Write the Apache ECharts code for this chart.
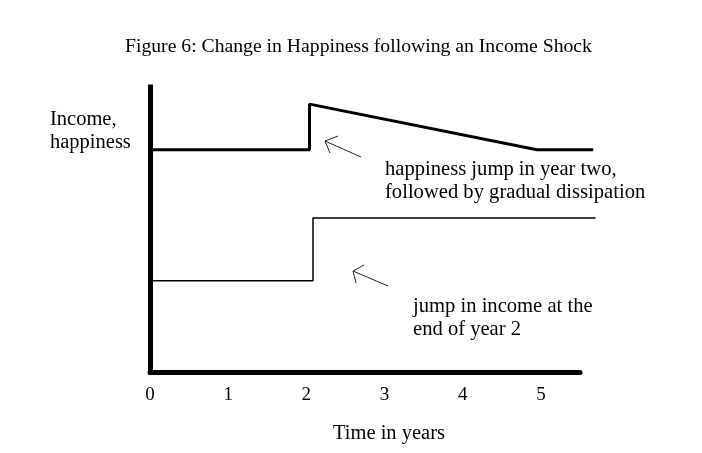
<!DOCTYPE html>
<html>
<head>
<meta charset="utf-8">
<script src="https://cdn.jsdelivr.net/npm/echarts@6/dist/echarts.min.js"></script>
<style>
  html, body { margin: 0; padding: 0; background: #fff; }
  #chart { width: 702px; height: 453px; }
</style>
</head>
<body>
<div id="chart"></div>
<script>
// ---- data (years on x, arbitrary level on y) ----
const tickLabels = ['0', '1', '2', '3', '4', '5'];
const happinessYears = [0, 2.04, 2.04, 4.95, 5.67];
const happinessLevel = [78, 78, 94, 78, 78];
const incomeYears = [0, 2.085, 2.085, 5.70];
const incomeLevel = [32, 32, 54, 54];

const titleText = 'Figure 6: Change in Happiness following an Income Shock';
const yLabel = 'Income,\nhappiness';
const xLabel = 'Time in years';
const noteHappiness = 'happiness jump in year two,\nfollowed by gradual dissipation';
const noteIncome = 'jump in income at the\nend of year 2';

const serif = '"Liberation Serif", "Times New Roman", serif';
const pair = (xs, ys) => xs.map((x, i) => [x, ys[i]]);

// scale: 430 px for 5.5 years
const pxPerYear = 430 / 5.5;
const dataMaxYear = 5.75;

const chart = echarts.init(document.getElementById('chart'), null, { renderer: 'canvas' });
chart.setOption({
  animation: false,
  backgroundColor: '#ffffff',
  title: {
    text: titleText,
    left: 125, top: 37, padding: 0,
    textStyle: { fontFamily: serif, fontSize: 19.7, fontWeight: 'normal', color: '#000' }
  },
  grid: [
    { left: 150, top: 87, width: 430, height: 285 },
    { left: 150, top: 87, width: pxPerYear * dataMaxYear, height: 285 }
  ],
  xAxis: [
    {
      gridIndex: 0, type: 'value', min: 0, max: 5.5, interval: 1,
      axisLine: { show: true, onZero: false, lineStyle: { color: '#000', width: 5 } },
      axisTick: { show: false },
      splitLine: { show: false },
      axisLabel: {
        showMaxLabel: false,
        margin: 14,
        fontFamily: serif, fontSize: 19, color: '#000',
        formatter: (v) => tickLabels[Math.round(v)] ?? ''
      }
    },
    {
      gridIndex: 1, type: 'value', min: 0, max: dataMaxYear, show: false
    }
  ],
  yAxis: [
    {
      gridIndex: 0, type: 'value', min: 0, max: 100,
      axisLine: { show: true, onZero: false, lineStyle: { color: '#000', width: 5, cap: 'square' } },
      axisTick: { show: false },
      splitLine: { show: false },
      axisLabel: { show: false }
    },
    {
      gridIndex: 1, type: 'value', min: 0, max: 100, show: false
    }
  ],
  series: [
    {
      name: 'Happiness', type: 'line', xAxisIndex: 1, yAxisIndex: 1, symbol: 'none',
      data: pair(happinessYears, happinessLevel),
      lineStyle: { color: '#000', width: 3 }
    },
    {
      name: 'Income', type: 'line', xAxisIndex: 1, yAxisIndex: 1, symbol: 'none',
      data: pair(incomeYears, incomeLevel),
      lineStyle: { color: '#000', width: 1.5 }
    }
  ],
  graphic: [
    { type: 'text', left: 50, top: 108, style: { text: yLabel, font: '20.5px ' + serif, fill: '#000', lineHeight: 23 } },
    { type: 'text', left: 385, top: 158.5, style: { text: noteHappiness, font: '20.6px ' + serif, fill: '#000', lineHeight: 23 } },
    { type: 'text', left: 413, top: 295.5, style: { text: noteIncome, font: '20.6px ' + serif, fill: '#000', lineHeight: 23 } },
    { type: 'text', left: 333, top: 423, style: { text: xLabel, font: '20.5px ' + serif, fill: '#000' } },
    // arrows
    { type: 'polyline', shape: { points: [[361, 157], [325, 141]] }, style: { stroke: '#222', lineWidth: 1, fill: null } },
    { type: 'polyline', shape: { points: [[338, 136], [325, 141], [330, 153]] }, style: { stroke: '#222', lineWidth: 1, fill: null } },
    { type: 'polyline', shape: { points: [[388, 286], [353, 271]] }, style: { stroke: '#222', lineWidth: 1, fill: null } },
    { type: 'polyline', shape: { points: [[364, 265], [353, 271], [356, 283]] }, style: { stroke: '#222', lineWidth: 1, fill: null } }
  ]
});
</script>
</body>
</html>
